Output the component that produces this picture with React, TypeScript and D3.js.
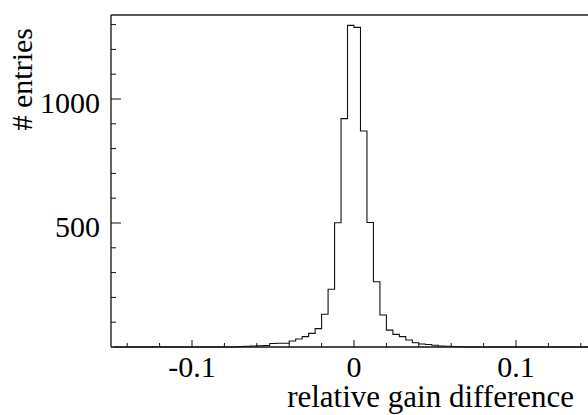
import React from "react";
import * as d3 from "d3";

const binStart = -0.148;
const binWidth = 0.004;
// counts per bin (left edge = binStart + i*binWidth)
const counts = [
  0, 0, 0, 0, 0, 0, 1, 0, 0, 0, // -0.148 .. -0.112
  0, 0, 0, 0, 0, 0, 0, 0, 0, 2, // -0.108 .. -0.072
  3, 4, 5, 6, 14, 15, 15, 24, 32, 42, // -0.068 .. -0.032
  55, 74, 132, 233, 501, 921, 1297, 1289, 871, 502, // -0.028 .. 0.008
  263, 129, 68, 51, 42, 28, 17, 12, 10, 7, // 0.012 .. 0.048
  4, 3, 2, 1, 0, 0, 0, 0, 0, 0, // 0.052 .. 0.088
  0, 0, 0, 0, 0, 0, 0, 0, 0, 0, // 0.092 .. 0.128
  0, 0, 0, 0, // 0.132 .. 0.144
];
const xMajorTicks = [-0.1, 0, 0.1];
const xMajorLabels = ["-0.1", "0", "0.1"];
const xMinorTicks = [-0.14, -0.12, -0.08, -0.06, -0.04, -0.02, 0.02, 0.04, 0.06, 0.08, 0.12, 0.14];
const yMajorTicks = [500, 1000];
const yMajorLabels = ["500", "1000"];
const yMinorTicks = [100, 200, 300, 400, 600, 700, 800, 900, 1100, 1200, 1300];
const xTitle = "relative gain difference";
const yTitle = "# entries";

export default function App() {
  const W = 588, H = 415;
  const left = 111, right = 597, top = 15, bottom = 347;
  const x = d3.scaleLinear().domain([-0.15, 0.15]).range([left, right]);
  const y = d3.scaleLinear().domain([0, 1338.7]).range([bottom, top]);

  const pts: [number, number][] = [];
  pts.push([x(binStart), y(0)]);
  counts.forEach((c, i) => {
    const l = binStart + i * binWidth;
    const r = l + binWidth;
    pts.push([x(l), y(c)]);
    pts.push([x(r), y(c)]);
  });
  pts.push([x(binStart + counts.length * binWidth), y(0)]);
  const line = d3.line<[number, number]>().x(d => d[0]).y(d => d[1]);

  const font = "'Liberation Serif', 'Times New Roman', serif";
  return (
    <svg width={W} height={H} style={{ position: "absolute", left: 0, top: 0, background: "#fff" }}>
      <rect x={0} y={0} width={W} height={H} fill="#fff" />
      {/* frame */}
      <line x1={left} y1={top} x2={W} y2={top} stroke="#222" strokeWidth={1.3} />
      <line x1={left} y1={top} x2={left} y2={bottom} stroke="#111" strokeWidth={1.3} />
      <line x1={left} y1={bottom} x2={W} y2={bottom} stroke="#111" strokeWidth={1.5} />
      {/* histogram */}
      <path d={line(pts) || ""} fill="none" stroke="#111" strokeWidth={1.1} />
      {/* x ticks */}
      {xMinorTicks.map(t => (
        <line key={"xm" + t} x1={x(t)} x2={x(t)} y1={bottom} y2={bottom - 4} stroke="#111" strokeWidth={1} />
      ))}
      {xMajorTicks.map((t, i) => (
        <g key={"xM" + t}>
          <line x1={x(t)} x2={x(t)} y1={bottom} y2={bottom - 7} stroke="#111" strokeWidth={1} />
          <text x={x(t)} y={377} textAnchor="middle" fontFamily={font} fontSize={30} fill="#000">{xMajorLabels[i]}</text>
        </g>
      ))}
      {/* y ticks */}
      {yMinorTicks.map(t => (
        <line key={"ym" + t} x1={left} x2={left + 5} y1={y(t)} y2={y(t)} stroke="#111" strokeWidth={1} />
      ))}
      {yMajorTicks.map((t, i) => (
        <g key={"yM" + t}>
          <line x1={left} x2={left + 10} y1={y(t)} y2={y(t)} stroke="#111" strokeWidth={1} />
          <text x={100} y={y(t) + 14} textAnchor="end" fontFamily={font} fontSize={30} fill="#000">{yMajorLabels[i]}</text>
        </g>
      ))}
      {/* titles */}
      <text x={574} y={407} textAnchor="end" fontFamily={font} fontSize={31} fill="#000">{xTitle}</text>
      <text transform="translate(32,28) rotate(-90)" textAnchor="end" fontFamily={font} fontSize={30} fill="#000">{yTitle}</text>
    </svg>
  );
}
